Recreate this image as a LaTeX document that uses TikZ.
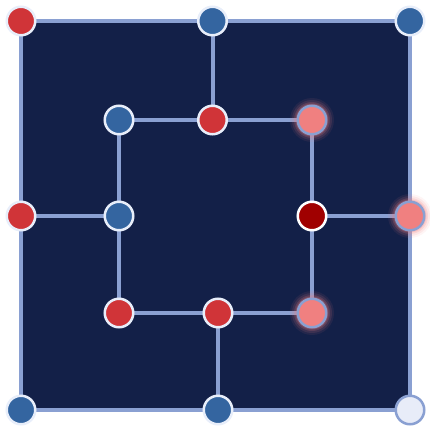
\documentclass[tikz,border=0pt]{standalone}
\usetikzlibrary{backgrounds}
\definecolor{navy}{RGB}{19,32,72}
\definecolor{edge}{RGB}{138,160,210}
\definecolor{pred}{RGB}{208,52,56}
\definecolor{pblue}{RGB}{52,101,160}
\definecolor{ppink}{RGB}{240,128,128}
\definecolor{pdark}{RGB}{160,0,0}
\definecolor{pempty}{RGB}{232,236,248}
\definecolor{ring}{RGB}{232,238,250}
\begin{document}
\begin{tikzpicture}[x=1pt,y=-1pt,
  spot/.style={circle,inner sep=0pt,minimum size=28.5pt,line width=2.5pt},
  redp/.style={spot,fill=pred,draw=ring},
  bluep/.style={spot,fill=pblue,draw=ring},
  darkp/.style={spot,fill=pdark,draw=white},
  pinkp/.style={spot,fill=ppink,draw=edge},
  emptyp/.style={spot,fill=pempty,draw=edge},
  link/.style={draw=edge,line width=4pt,line cap=rect}]
\useasboundingbox (0,0) rectangle (430,436);
\node[redp]   (o1) at (21,21) {};
\node[bluep]  (o2) at (212.5,21) {};
\node[bluep]  (o3) at (410,21) {};
\node[redp]   (o4) at (21,216) {};
\node[pinkp]  (o5) at (410,216) {};
\node[bluep]  (o6) at (21,410) {};
\node[bluep]  (o7) at (218,410) {};
\node[emptyp] (o8) at (410,410) {};
\node[bluep]  (m1) at (119,120) {};
\node[redp]   (m2) at (212.5,120) {};
\node[pinkp]  (m3) at (312,120) {};
\node[bluep]  (m4) at (119,216) {};
\node[darkp]  (m5) at (312,216) {};
\node[redp]   (m6) at (119,313) {};
\node[redp]   (m7) at (218,313) {};
\node[pinkp]  (m8) at (312,313) {};
\begin{scope}[on background layer]
\fill[navy] (o1.center) rectangle (o8.center);
\path[link] (o1.center) -- (o2.center) -- (o3.center) -- (o5.center) -- (o8.center)
  -- (o7.center) -- (o6.center) -- (o4.center) -- cycle;
\path[link] (m1.center) -- (m2.center) -- (m3.center) -- (m5.center) -- (m8.center)
  -- (m7.center) -- (m6.center) -- (m4.center) -- cycle;
\path[link] (o2.center) -- (m2.center);
\path[link] (o4.center) -- (m4.center);
\path[link] (m5.center) -- (o5.center);
\path[link] (m7.center) -- (o7.center);
\foreach \n in {m3,o5,m8}{
  \foreach \r/\o in {22/0.08,20/0.12,18/0.18,16.5/0.25}{
    \fill[ppink,opacity=\o] (\n.center) circle (\r);
  }
}
\end{scope}
\end{tikzpicture}
\end{document}
